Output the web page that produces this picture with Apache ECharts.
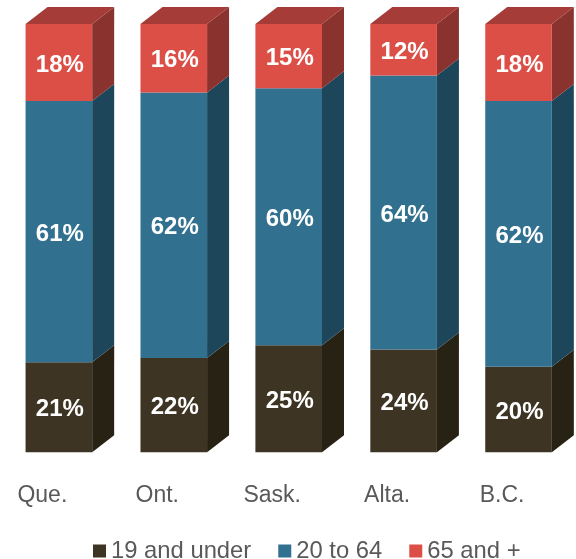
<!DOCTYPE html>
<html>
<head>
<meta charset="utf-8">
<title>Age groups by province</title>
<style>
html, body { margin: 0; padding: 0; background: #fff; }
#chart { width: 576px; height: 559px; }
</style>
<script src="https://cdn.jsdelivr.net/npm/echarts@6/dist/echarts.min.js"></script>
</head>
<body>
<div id="chart"></div>
<script>
// 图表数据
const categories = ['Que.', 'Ont.', 'Sask.', 'Alta.', 'B.C.']
const under20 = [21, 22, 25, 24, 20]
const working = [61, 62, 60, 64, 62]
const seniors = [18, 16, 15, 12, 18]

// 立方柱的尺寸
const BAR_WIDTH = 66.6
const DEPTH_X = 22
const DEPTH_Y = 17
const FONT = 'Liberation Sans, Arial, sans-serif'

const groups = [
  { name: '19 and under', values: under20, front: '#3E3423', side: '#282214', top: '#3E3423' },
  { name: '20 to 64', values: working, front: '#31708F', side: '#1E465B', top: '#31708F' },
  { name: '65 and +', values: seniors, front: '#DC4F47', side: '#8A322E', top: '#A63C37' }
]

// 当前系列下方的累计值
const baseOf = (groupIdx, i) => {
  let sum = 0
  for (let g = 0; g < groupIdx; g++) sum += groups[g].values[i]
  return sum
}

const renderCube = (groupIdx) => (params, api) => {
  const group = groups[groupIdx]
  const i = api.value(0)
  const value = api.value(1)
  const base = baseOf(groupIdx, i)
  const bottom = api.coord([i, base])
  const top = api.coord([i, base + value])
  const x0 = bottom[0] - BAR_WIDTH / 2
  const x1 = x0 + BAR_WIDTH
  const children = [
    {
      type: 'polygon',
      shape: { points: [[x1, top[1]], [x1 + DEPTH_X, top[1] - DEPTH_Y], [x1 + DEPTH_X, bottom[1] - DEPTH_Y], [x1, bottom[1]]] },
      style: { fill: group.side }
    },
    {
      type: 'rect',
      shape: { x: x0, y: top[1], width: BAR_WIDTH, height: bottom[1] - top[1] },
      style: { fill: group.front }
    }
  ]
  // 只有最上面一段才画顶面
  if (groupIdx === groups.length - 1) {
    children.push({
      type: 'polygon',
      shape: { points: [[x0, top[1]], [x0 + DEPTH_X, top[1] - DEPTH_Y], [x1 + DEPTH_X, top[1] - DEPTH_Y], [x1, top[1]]] },
      style: { fill: group.top }
    })
  }
  children.push({
    type: 'text',
    z2: 10,
    style: {
      text: value + '%',
      x: x0 + BAR_WIDTH / 2 + 1,
      y: (top[1] + bottom[1]) / 2 + 2.5,
      fill: '#fff',
      font: 'bold 24px ' + FONT,
      textAlign: 'center',
      textVerticalAlign: 'middle'
    }
  })
  return { type: 'group', children }
}

const chart = echarts.init(document.getElementById('chart'))
chart.setOption({
  animation: false,
  backgroundColor: '#fff',
  grid: { left: 1.4, top: 24, width: 576, height: 428.3 },
  legend: {
    left: 93,
    top: 539,
    icon: 'rect',
    itemWidth: 13,
    itemHeight: 13,
    itemGap: 27,
    padding: 0,
    selectedMode: false,
    textStyle: { color: '#595959', fontFamily: FONT, fontSize: 23.8 },
    data: groups.map(g => g.name)
  },
  xAxis: {
    type: 'category',
    data: categories,
    axisLine: { show: false },
    axisTick: { show: false },
    axisLabel: { color: '#595959', fontFamily: FONT, fontSize: 23, margin: 32, padding: [0, 33, 0, 0] }
  },
  yAxis: { type: 'value', min: 0, max: 100, show: false },
  series: groups.map((g, idx) => ({
    name: g.name,
    type: 'custom',
    clip: false,
    itemStyle: { color: g.front },
    encode: { x: 0, y: 1 },
    data: g.values.map((v, i) => [i, v]),
    renderItem: renderCube(idx)
  }))
})
</script>
</body>
</html>
